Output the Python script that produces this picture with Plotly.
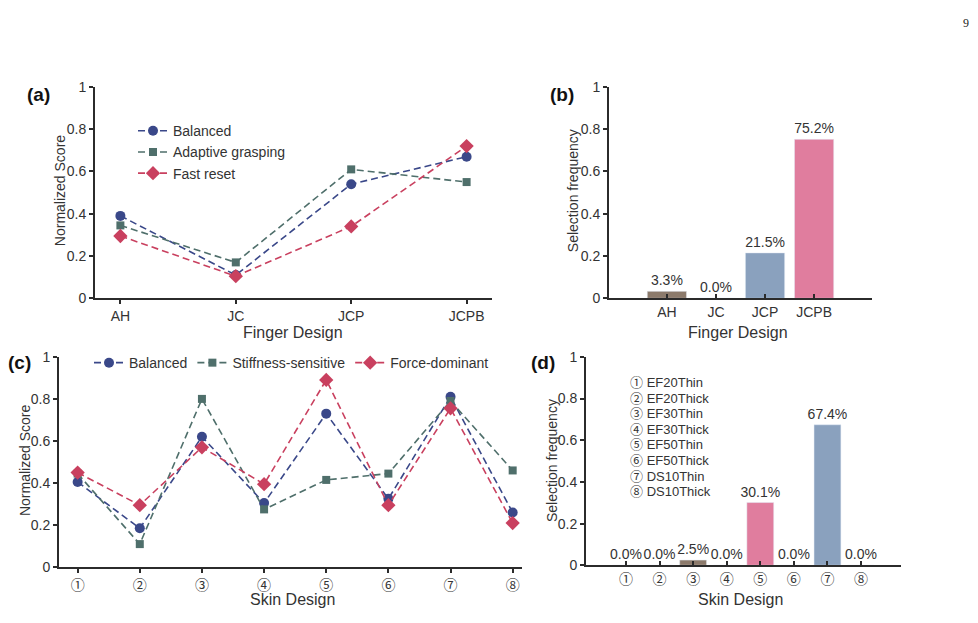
import plotly.graph_objects as go

W, H = 978, 623

# ---------- data ----------
finger_designs = ["AH", "JC", "JCP", "JCPB"]
finger_balanced = [0.39, 0.11, 0.54, 0.67]
finger_adaptive = [0.345, 0.17, 0.61, 0.55]
finger_fast = [0.295, 0.105, 0.34, 0.72]
finger_freq = [0.033, 0.0, 0.215, 0.752]
finger_freq_labels = ["3.3%", "0.0%", "21.5%", "75.2%"]

skin_designs = ["①", "②", "③", "④", "⑤", "⑥", "⑦", "⑧"]
skin_balanced = [0.405, 0.185, 0.62, 0.305, 0.73, 0.325, 0.81, 0.26]
skin_stiffness = [0.445, 0.11, 0.80, 0.275, 0.415, 0.445, 0.79, 0.46]
skin_force = [0.45, 0.295, 0.57, 0.395, 0.89, 0.295, 0.755, 0.21]
skin_freq = [0.0, 0.0, 0.025, 0.0, 0.301, 0.0, 0.674, 0.0]
skin_freq_labels = ["0.0%", "0.0%", "2.5%", "0.0%", "30.1%", "0.0%", "67.4%", "0.0%"]
skin_names = ["EF20Thin", "EF20Thick", "EF30Thin", "EF30Thick",
              "EF50Thin", "EF50Thick", "DS10Thin", "DS10Thick"]

ytick_vals = [0, 0.2, 0.4, 0.6, 0.8, 1]
ytick_text = ["0", "0.2", "0.4", "0.6", "0.8", "1"]

# ---------- styles ----------
C_NAVY = "#3a4889"
C_TEAL = "#4f6f6b"
C_RED = "#c9405f"
C_BROWN = "#8c7a6b"
C_BLUE = "#8aa1be"
C_PINK = "#e07d9e"
AX = "#2b2b2b"
TXT = "#333333"
FONT = "Liberation Sans, Arial, DejaVu Sans, Noto Sans CJK SC"
CIRC_FONT = "Noto Sans CJK JP, DejaVu Sans"
DASH = "7px,4px"

def px_x(x):
    return x / W

def px_y(y):
    return 1 - y / H

fig = go.Figure()

def line_trace(x, y, name, color, symbol, size, xa, ya, legend):
    return go.Scatter(
        x=x, y=y, name=name, mode="lines+markers",
        line=dict(color=color, width=1.6, dash=DASH),
        marker=dict(color=color, symbol=symbol, size=size),
        xaxis=xa, yaxis=ya, legend=legend, cliponaxis=False,
    )

# (a)
fig.add_trace(line_trace(finger_designs, finger_balanced, "Balanced", C_NAVY, "circle", 10, "x", "y", "legend"))
fig.add_trace(line_trace(finger_designs, finger_adaptive, "Adaptive grasping", C_TEAL, "square", 8, "x", "y", "legend"))
fig.add_trace(line_trace(finger_designs, finger_fast, "Fast reset", C_RED, "diamond", 11, "x", "y", "legend"))

# (b)
fig.add_trace(go.Bar(
    x=finger_designs, y=finger_freq, text=finger_freq_labels,
    textposition="outside", constraintext="none", cliponaxis=False,
    textfont=dict(size=14, color=TXT, family=FONT),
    marker=dict(color=[C_BROWN, C_BROWN, C_BLUE, C_PINK]),
    width=0.8, showlegend=False, xaxis="x2", yaxis="y2",
))

# (c)
fig.add_trace(line_trace(skin_designs, skin_balanced, "Balanced", C_NAVY, "circle", 10, "x3", "y3", "legend2"))
fig.add_trace(line_trace(skin_designs, skin_stiffness, "Stiffness-sensitive", C_TEAL, "square", 8, "x3", "y3", "legend2"))
fig.add_trace(line_trace(skin_designs, skin_force, "Force-dominant", C_RED, "diamond", 11, "x3", "y3", "legend2"))

# (d)
skin_colors = [C_BROWN, C_BROWN, C_BROWN, C_BROWN, C_PINK, C_PINK, C_BLUE, C_BLUE]
fig.add_trace(go.Bar(
    x=skin_designs, y=skin_freq, text=skin_freq_labels,
    textposition="outside", constraintext="none", cliponaxis=False,
    textfont=dict(size=14, color=TXT, family=FONT),
    marker=dict(color=skin_colors),
    width=0.8, showlegend=False, xaxis="x4", yaxis="y4",
))

def xaxis(domain, rng, ticks, anchor, family=FONT, size=14):
    return dict(domain=domain, range=rng, anchor=anchor, showline=True,
                linecolor=AX, linewidth=2, ticks=ticks, ticklen=4, tickwidth=1.5,
                tickcolor=AX, showgrid=False, zeroline=False,
                tickfont=dict(size=size, color=TXT, family=family), fixedrange=True)

def yaxis(domain, anchor):
    return dict(domain=domain, range=[0, 1], anchor=anchor, showline=True,
                linecolor=AX, linewidth=2, ticks="outside", ticklen=4, tickwidth=1.5,
                tickcolor=AX, showgrid=False, zeroline=False,
                tickvals=ytick_vals, ticktext=ytick_text,
                tickfont=dict(size=14, color=TXT, family=FONT), fixedrange=True)

top_dom = [px_y(298), px_y(81)]
bot_dom_c = [px_y(574), px_y(358)]
bot_dom_d = [px_y(572), px_y(358)]

annotations = []

def ann(text, x, y, size=15, bold=False, angle=0, family=FONT, color=TXT, xanchor="center", yanchor="middle", align="center"):
    annotations.append(dict(
        text=f"<b>{text}</b>" if bold else text,
        x=px_x(x), y=px_y(y), xref="paper", yref="paper",
        showarrow=False, textangle=angle, xanchor=xanchor, yanchor=yanchor, align=align,
        font=dict(size=size, color=color, family=family),
    ))

# panel labels
ann("(a)", 38, 89, size=19, bold=True, color="#111")
ann("(b)", 562, 89, size=19, bold=True, color="#111")
ann("(c)", 19, 364, size=19, bold=True, color="#111")
ann("(d)", 543, 364, size=19, bold=True, color="#111")

# axis titles
ann("Finger Design", 293, 333, size=16)
ann("Finger Design", 738, 333, size=16)
ann("Skin Design", 292, 607, size=16)
ann("Skin Design", 740, 607, size=16)
ann("Normalized Score", 60, 188, size=14, angle=-90)
ann("Selection frequency", 573, 188, size=14, angle=-90)
ann("Normalized Score", 25, 465, size=14, angle=-90)
ann("Selection frequency", 552, 465, size=14, angle=-90)

# skin name list in (d): one multi-line text block (12px base -> 15.6px line pitch)
skin_list = "<br>".join(
    f"<span style='font-family:{CIRC_FONT};font-size:13px'>{n}</span>"
    f"<span style='font-size:13px'> {s}</span>"
    for n, s in zip(skin_designs, skin_names)
)
annotations.append(dict(
    text=skin_list, x=px_x(628), y=px_y(439.6), xref="paper", yref="paper",
    showarrow=False, xanchor="left", yanchor="middle", align="left",
    font=dict(size=12, color=TXT, family=FONT),
))

# page number
ann("9", 966, 15, size=12, family="Liberation Serif, DejaVu Serif", color="#222")

fig.update_layout(
    width=W, height=H,
    margin=dict(l=0, r=0, t=0, b=0),
    paper_bgcolor="white", plot_bgcolor="white",
    font=dict(family=FONT, color=TXT),
    xaxis=xaxis([px_x(95), px_x(492)], [-0.22, 3.22], "outside", "y"),
    yaxis=yaxis(top_dom, "x"),
    xaxis2=xaxis([px_x(609), px_x(872)], [-1.18, 4.18], "inside", "y2"),
    yaxis2=yaxis(top_dom, "x2"),
    xaxis3=xaxis([px_x(59), px_x(522)], [-0.3, 7.15], "outside", "y3", CIRC_FONT, 14),
    yaxis3=yaxis(bot_dom_c, "x3"),
    xaxis4=xaxis([px_x(586), px_x(901)], [-1.19, 8.19], "inside", "y4", CIRC_FONT, 14),
    yaxis4=yaxis(bot_dom_d, "x4"),
    legend=dict(x=px_x(133), y=px_y(110), xanchor="left", yanchor="top",
                bgcolor="rgba(0,0,0,0)", font=dict(size=14, color=TXT, family=FONT),
                tracegroupgap=0, itemwidth=30),
    legend2=dict(x=px_x(89), y=px_y(348), xanchor="left", yanchor="top",
                 orientation="h", bgcolor="rgba(0,0,0,0)",
                 font=dict(size=14, color=TXT, family=FONT), itemwidth=30),
    annotations=annotations,
    showlegend=True,
)

fig.write_html("out.html")
